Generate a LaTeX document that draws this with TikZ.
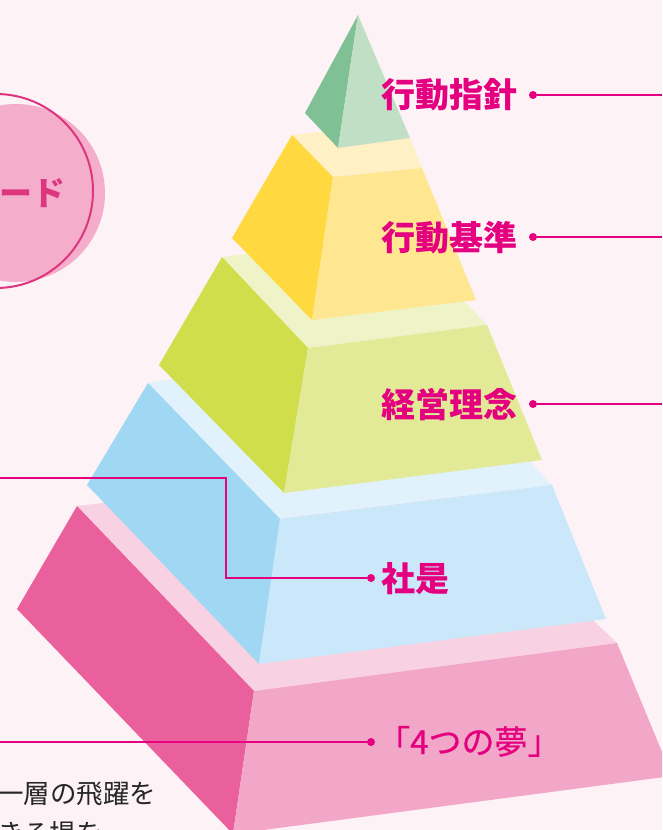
\documentclass[tikz,border=0pt]{standalone}
\usepackage{fontspec}
\newfontfamily\jp{Noto Sans CJK JP}
\newfontfamily\jpm[FakeBold=0.6]{Noto Sans CJK JP}
\definecolor{bg}{HTML}{FDF2F6}
\definecolor{mag}{HTML}{E4007F}
\definecolor{circfill}{HTML}{F4AECB}
\definecolor{circline}{HTML}{DD3580}
\definecolor{pinkL}{HTML}{E9609D}
\definecolor{pinkR}{HTML}{F2A7C8}
\definecolor{pinkT}{HTML}{F8D2E3}
\definecolor{blueL}{HTML}{A0D8F4}
\definecolor{blueR}{HTML}{CAE8F9}
\definecolor{blueT}{HTML}{E1F2FC}
\definecolor{greenL}{HTML}{D1DE4C}
\definecolor{greenR}{HTML}{E2EA98}
\definecolor{greenT}{HTML}{EFF4C8}
\definecolor{yelL}{HTML}{FFD93F}
\definecolor{yelR}{HTML}{FFE791}
\definecolor{yelT}{HTML}{FFF0C6}
\definecolor{topL}{HTML}{7FC194}
\definecolor{topR}{HTML}{C0DFC4}
\begin{document}
\begin{tikzpicture}[x=1pt,y=-1pt,
  lbl/.style={text=mag,font=\jp\bfseries\fontsize{34}{34}\selectfont,inner sep=0pt,anchor=base west},
  lblr/.style={text=mag,font=\jpm\fontsize{33}{33}\selectfont,inner sep=0pt,anchor=base west},
  body/.style={text=black!85,font=\jp\fontsize{26.5}{26.5}\selectfont,inner sep=0pt,anchor=base west},
  dot/.style={circle,fill=mag,inner sep=0pt,minimum size=8pt},
  conn/.style={draw=mag,line width=1.6pt}]
\useasboundingbox (0,0) rectangle (662,830);
\clip (0,0) rectangle (662,830);
\fill[bg] (0,0) rectangle (662,830);

% keyword circle
\fill[circfill] (16,193) circle (89pt);
\draw[circline,line width=2pt] (-4,191) circle (97pt);
\node[text=circline,font=\jp\bfseries\fontsize{33}{33}\selectfont,inner sep=0pt,anchor=base east] (kw) at (66,205) {キーワード};

% base layer (pink)
\fill[pinkT] (77,506) -- (254,691) -- (617,643) -- (429,464) -- cycle;
\fill[pinkL] (77,506) -- (254,691) -- (233,834) -- (17,609) -- cycle;
\fill[pinkR] (254,691) -- (617,643) -- (672,776) -- (233,834) -- cycle;
% blue layer
\fill[blueT] (148,383) -- (280,519) -- (552,485) -- (412,339) -- cycle;
\fill[blueL] (148,383) -- (280,519) -- (259,664) -- (87,485) -- cycle;
\fill[blueR] (280,519) -- (552,485) -- (606,619) -- (259,664) -- cycle;
% green layer
\fill[greenT] (222,257) -- (308,348) -- (487,325) -- (401,235) -- cycle;
\fill[greenL] (222,257) -- (308,348) -- (284,493) -- (159,365) -- cycle;
\fill[greenR] (308,348) -- (487,325) -- (542,460) -- (284,493) -- cycle;
% yellow layer
\fill[yelT] (292,135) -- (333,177) -- (422,168) -- (410,138) -- (360,100) -- (325,131) -- cycle;
\fill[yelL] (292,135) -- (333,177) -- (312,320) -- (232,238) -- cycle;
\fill[yelR] (333,177) -- (422,168) -- (476,300) -- (312,320) -- cycle;
% apex
\fill[topL] (358,15) -- (305,113) -- (338,148) -- cycle;
\fill[topR] (358,15) -- (338,148) -- (410,138) -- cycle;

% labels and connectors
\node[lbl] (l1) at (381,107) {行動指針};
\node[dot] (d1) at (533,95) {};
\coordinate (e1) at (662,95);
\draw[conn] (d1) -- (e1);

\node[lbl] (l2) at (381,250) {行動基準};
\node[dot] (d2) at (533,237) {};
\coordinate (e2) at (662,237);
\draw[conn] (d2) -- (e2);

\node[lbl] (l3) at (381,417) {経営理念};
\node[dot] (d3) at (533,404) {};
\coordinate (e3) at (662,404);
\draw[conn] (d3) -- (e3);

\node[lbl] (l4) at (381,591) {社是};
\node[dot] (d4) at (371,578) {};
\coordinate (k4) at (226,478);
\coordinate (e4) at (0,478);
\draw[conn] (d4) -| (k4) -- (e4);

\node[lblr] (l5) at (377,754) {「4つの夢」};
\node[dot] (d5) at (371,742) {};
\coordinate (e5) at (0,742);
\draw[conn] (d5) -- (e5);

% body text
\node[body] (t1) at (-3,803) {一層の飛躍を};
\node[body] (t2) at (-3,843) {きる場を};
\end{tikzpicture}
\end{document}
